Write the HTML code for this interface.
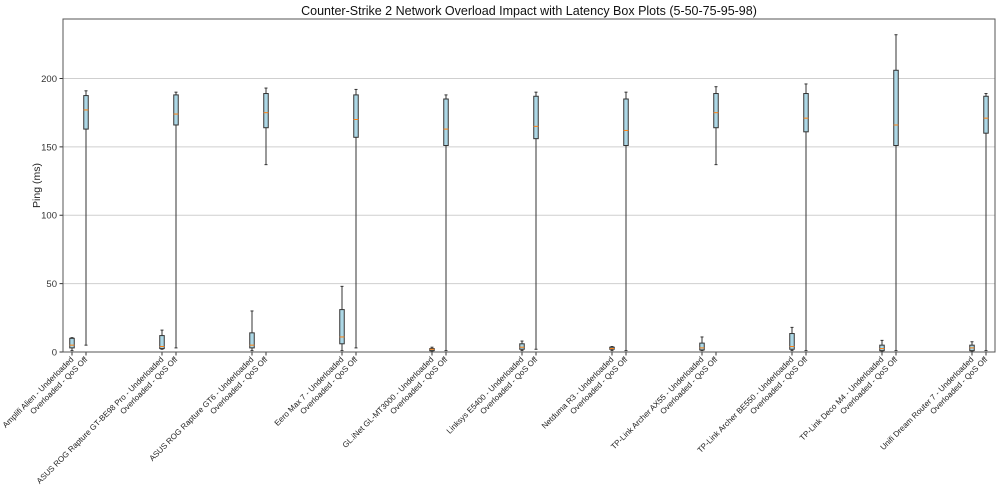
<!DOCTYPE html>
<html><head><meta charset="utf-8"><style>
body{margin:0;background:#fff;}
svg{display:block;font-family:"Liberation Sans",Arial,sans-serif;}
</style></head><body>
<svg id="chart" width="1000" height="489" viewBox="0 0 1000 489"></svg>
<script>
const routers=["Amplifi Alien","ASUS ROG Rapture GT-BE98 Pro","ASUS ROG Rapture GT6","Eero Max 7","GL.iNet GL-MT3000","Linksys E5400","Netduma R3","TP-Link Archer AX55","TP-Link Archer BE550","TP-Link Deco M4","Unifi Dream Router 7"];
// [whiskerLow, q1, median, q3, whiskerHigh]
const underloaded=[[1,3,5,10,10.5],[2,2.5,4,12,16],[1,3,5,14,30],[1,6,11,31,48],[0.5,1,2,2.5,3.5],[1,2,3.5,6,8],[1,2,2.5,3.5,4],[1,1.5,3,6.5,11],[1,2,4,13.5,18],[0.5,1,2.5,5,8.5],[0.5,1,3,5,7.5]];
const overloaded=[[5,163,177,187.5,191],[3,166,174,188,190],[137,164,175,189,193],[3,157,170,188,192],[1,151,163,185,188],[2,156,165,187,190],[1,151,162,185,190],[137,164,175,189,194],[1,161,171,189,196],[1,151,166,206,232],[1,160,171,187,189]];
const yTicks=[0,50,100,150,200];

const L=63,R=995,T=19,B=352,yMax=243.5;
const svg=document.getElementById('chart');
const NS='http://www.w3.org/2000/svg';
function y(v){return B-(v/yMax)*(B-T);}
function x(g,k){return 72+g*90+k*14;}
function mk(tag,attrs,parent){const e=document.createElementNS(NS,tag);for(const a in attrs)e.setAttribute(a,attrs[a]);(parent||svg).appendChild(e);return e;}

yTicks.forEach(t=>{
  const g=mk('line',{x1:L,x2:R,y1:y(t),y2:y(t),stroke:'#cfcfcf','stroke-width':1});
  
  
  mk('line',{x1:L-3.5,x2:L,y1:y(t),y2:y(t),stroke:'#333'});
  const tx=mk('text',{x:L-6,y:y(t)+3.5,'text-anchor':'end','font-size':9.5,fill:'#333'});
  tx.textContent=t;
  
  
});

function drawBox(d,cx,name){
  const grp=mk('g',{});
  
  
  const w=4.5;
  mk('line',{x1:cx,x2:cx,y1:y(d[0]),y2:y(d[1]),stroke:'#333','stroke-width':1},grp);
  mk('line',{x1:cx,x2:cx,y1:y(d[3]),y2:y(d[4]),stroke:'#333','stroke-width':1},grp);
  mk('line',{x1:cx-1.5,x2:cx+1.5,y1:y(d[0]),y2:y(d[0]),stroke:'#333','stroke-width':1},grp);
  mk('line',{x1:cx-1.5,x2:cx+1.5,y1:y(d[4]),y2:y(d[4]),stroke:'#333','stroke-width':1},grp);
  mk('rect',{x:cx-w/2,y:y(d[3]),width:w,height:Math.max(0.5,y(d[1])-y(d[3])),fill:'#add8e6',stroke:'#333','stroke-width':1},grp);
  mk('line',{x1:cx-w/2,x2:cx+w/2,y1:y(d[2]),y2:y(d[2]),stroke:'#ff7f0e','stroke-width':1},grp);
}
routers.forEach((r,i)=>{
  drawBox(underloaded[i],x(i,0),'box-underloaded');
  drawBox(overloaded[i],x(i,1),'box-overloaded');
  [[r+' - Underloaded',0],['Overloaded - QoS Off',1]].forEach(([lab,k])=>{
    const cx=x(i,k);
    mk('line',{x1:cx,x2:cx,y1:B,y2:B+3.5,stroke:'#333'});
    const t=mk('text',{x:cx+2,y:B+8,'text-anchor':'end','font-size':8,fill:'#222',transform:`rotate(-45 ${cx+2} ${B+8})`});
    t.textContent=lab;
    
    
  });
});
const fr=mk('rect',{x:L,y:T,width:R-L,height:B-T,fill:'none',stroke:'#555','stroke-width':1});


const yl=mk('text',{x:40,y:(T+B)/2,'text-anchor':'middle','font-size':10.5,fill:'#222',transform:`rotate(-90 40 ${(T+B)/2})`});
yl.textContent='Ping (ms)';


const ti=mk('text',{x:(L+R)/2,y:15,'text-anchor':'middle','font-size':12.5,fill:'#111'});
ti.textContent='Counter-Strike 2 Network Overload Impact with Latency Box Plots (5-50-75-95-98)';


</script>
</body></html>
